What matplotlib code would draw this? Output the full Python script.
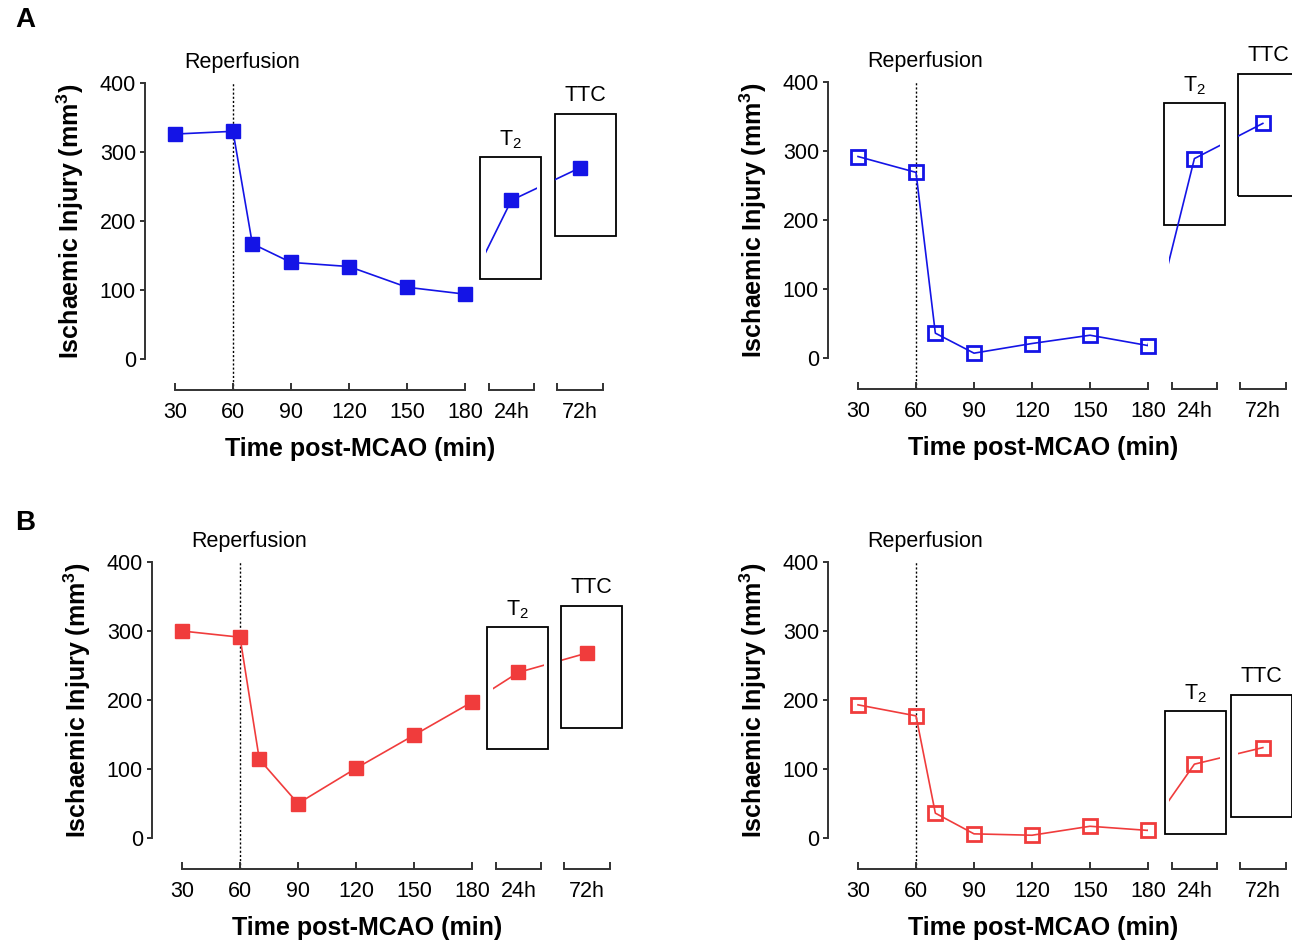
import matplotlib
matplotlib.use("Agg")
import matplotlib.pyplot as plt
from matplotlib.patches import Rectangle
from matplotlib.transforms import blended_transform_factory

plt.rcParams['font.family'] = ['Liberation Sans', 'DejaVu Sans']
plt.rcParams['mathtext.fontset'] = 'custom'
plt.rcParams['mathtext.rm'] = 'Liberation Sans'
plt.rcParams['mathtext.bf'] = 'Liberation Sans:bold'

# ---- data -------------------------------------------------------------
times = [30, 60, 70, 90, 120, 150, 180]          # min post-MCAO
tick_times = [30, 60, 90, 120, 150, 180]
late_labels = ['24h', '72h']
reperfusion_time = 60

# ischaemic injury volume (mm^3), acute MRI time course and late (T2 / TTC)
blue_filled = [326, 330, 167, 140, 134, 104, 94]
blue_filled_late = [230, 277]
blue_open = [292, 269, 36, 7, 21, 33, 18]
blue_open_late = [289, 340]
red_filled = [300, 291, 114, 50, 101, 149, 197]
red_filled_late = [240, 268]
red_open = [193, 177, 36, 6, 4, 17, 11]
red_open_late = [107, 131]

# frames around the late measurements: (x0, x1, y0, y1)
boxes_blue_filled = [(187.8, 219.4, 116, 293), (226.5, 258.2, 178, 355)]
boxes_blue_open = [(188.3, 219.9, 193, 370), (226.6, 258.2, 235, 411)]
boxes_red_filled = [(187.8, 219.4, 129, 306), (226.0, 257.6, 160, 336)]
boxes_red_open = [(188.8, 220.4, 6, 184), (223.0, 254.6, 30, 207)]
box_titles = [r'T$_\mathregular{2}$', 'TTC']

# ---- layout -----------------------------------------------------------
W, H, DPI = 1292, 944, 100
PX_PER_MIN = 290 / 150
PX_PER_UNIT = 276 / 400
Y_MIN, Y_MAX = -45, 400
X_MIN = 14.5
SEG_24 = (192.2, 215.8)
SEG_72 = (227.6, 251.2)
VIEW_24 = (191.0, 217.0)
VIEW_72 = (226.6, 252.4)
LATE_POS = [sum(SEG_24) / 2, sum(SEG_72) / 2]

BLUE = '#1414e6'
RED = '#f03c3c'
AXIS_COLOR = '#333333'
FS = 15.5
FS_LABEL = 18

fig = plt.figure(figsize=(W / DPI, H / DPI), dpi=DPI)


def add_axes_px(x30, y400, xlo, xhi):
    left = x30 + (xlo - 30) * PX_PER_MIN
    width = (xhi - xlo) * PX_PER_MIN
    height = (Y_MAX - Y_MIN) * PX_PER_UNIT
    ax = fig.add_axes([left / W, 1 - (y400 + height) / H, width / W, height / H])
    ax.set_xlim(xlo, xhi)
    ax.set_ylim(Y_MIN, Y_MAX)
    ax.patch.set_visible(False)
    for s in ('top', 'right'):
        ax.spines[s].set_visible(False)
    for s in ('left', 'bottom'):
        ax.spines[s].set_color(AXIS_COLOR)
        ax.spines[s].set_linewidth(1.4)
    ax.tick_params(colors=AXIS_COLOR, labelcolor='black', labelsize=FS, width=1.4)
    return ax


def draw_panel(x30, y400, acute, late, color, filled, boxes):
    xs = times + LATE_POS
    ys = acute + late
    mk = dict(marker='s', ls='none', color=color, clip_on=False, zorder=4)
    if filled:
        mk.update(ms=9.5, mfc=color, mec=color, mew=1)
    else:
        mk.update(ms=9.5, mfc='none', mec=color, mew=2)

    main = add_axes_px(x30, y400, X_MIN, 180)
    seg24 = add_axes_px(x30, y400, *VIEW_24)
    seg72 = add_axes_px(x30, y400, *VIEW_72)

    # connecting line, shown only inside each axis segment
    for ax in (main, seg24, seg72):
        ax.plot(xs, ys, color=color, lw=1.2, zorder=3)

    main.plot(times, acute, **mk)
    seg24.plot([LATE_POS[0]], [late[0]], **mk)
    seg72.plot([LATE_POS[1]], [late[1]], **mk)

    # main axis
    main.spines['left'].set_bounds(0, 400)
    main.spines['bottom'].set_bounds(30, 180)
    main.set_yticks([0, 100, 200, 300, 400])
    main.set_xticks(tick_times)
    main.tick_params(axis='y', direction='out', length=3.6, pad=3)
    main.tick_params(axis='x', direction='in', length=5, pad=8.5)

    main.plot([reperfusion_time] * 2, [Y_MIN, 400], color='black', lw=1,
              ls=(0, (1.5, 1.5)), zorder=1)
    main.text(64.5, 430, 'Reperfusion', ha='center', va='center',
              fontsize=FS, clip_on=False)

    main.set_ylabel(r'Ischaemic Injury (mm$^\mathregular{3}$)',
                    fontsize=FS_LABEL, fontweight='bold')
    main.yaxis.set_label_coords(-0.186, (200 - Y_MIN) / (Y_MAX - Y_MIN))
    tr = blended_transform_factory(main.transData, main.transAxes)
    main.text(126, -0.192, 'Time post-MCAO (min)', transform=tr,
              ha='center', va='center', fontsize=FS_LABEL, fontweight='bold',
              clip_on=False)

    # late segments
    for ax, seg, pos, lab in ((seg24, SEG_24, LATE_POS[0], late_labels[0]),
                              (seg72, SEG_72, LATE_POS[1], late_labels[1])):
        ax.spines['left'].set_visible(False)
        ax.spines['bottom'].set_bounds(*seg)
        ax.set_yticks([])
        ax.set_xticks(list(seg), labels=['', ''])
        ax.set_xticks([pos], labels=[lab], minor=True)
        ax.tick_params(axis='x', which='major', direction='in', length=5)
        ax.tick_params(axis='x', which='minor', length=0, pad=8.5, labelsize=FS)

    for ax, (x0, x1, y0, y1), title, dy in zip((seg24, seg72), boxes,
                                               box_titles, (25, 27)):
        ax.add_patch(Rectangle((x0, y0), x1 - x0, y1 - y0, fill=False,
                               ec='black', lw=1.3, clip_on=False, zorder=2))
        ax.text((x0 + x1) / 2, y1 + dy, title, ha='center', va='center',
                fontsize=FS, clip_on=False)


draw_panel(175, 83, blue_filled, blue_filled_late, BLUE, True, boxes_blue_filled)
draw_panel(858, 82, blue_open, blue_open_late, BLUE, False, boxes_blue_open)
draw_panel(182, 562, red_filled, red_filled_late, RED, True, boxes_red_filled)
draw_panel(858, 562, red_open, red_open_late, RED, False, boxes_red_open)

fig.text(25 / W, 1 - 20 / H, 'A', fontsize=20, fontweight='bold',
         ha='center', va='center')
fig.text(25 / W, 1 - 523 / H, 'B', fontsize=20, fontweight='bold',
         ha='center', va='center')

fig.savefig('out.png', dpi=DPI)
